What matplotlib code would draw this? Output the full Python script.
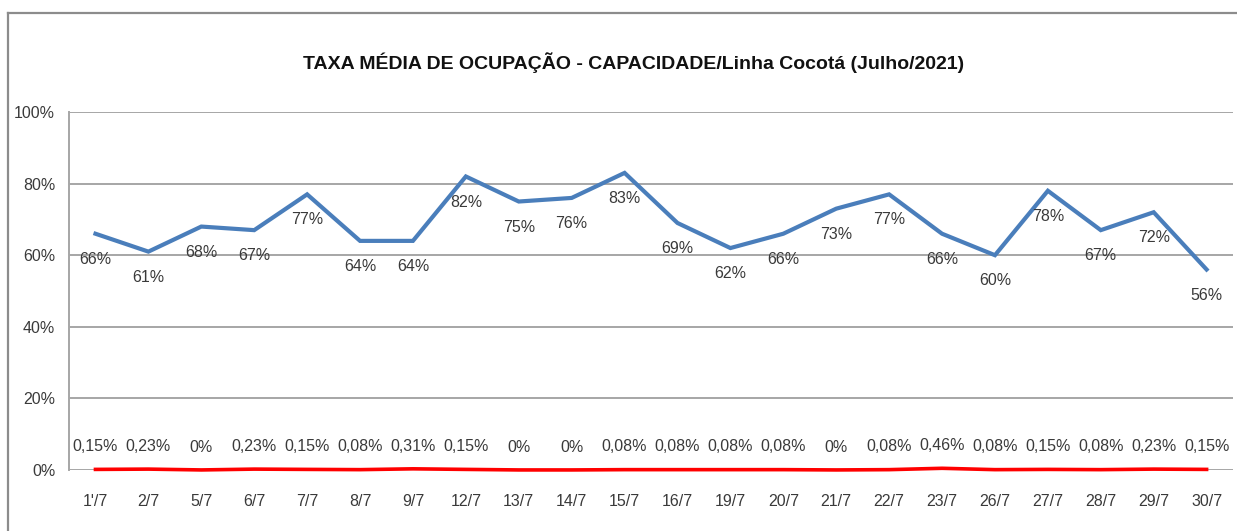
"""Taxa media de ocupacao - Linha Cocota, julho/2021.

Output: out.png
"""
from __future__ import annotations

import matplotlib
matplotlib.use("Agg")
import matplotlib.pyplot as plt
from matplotlib.lines import Line2D
from matplotlib.ticker import PercentFormatter

# ---------------------------------------------------------------------------
# data
# ---------------------------------------------------------------------------
dias = ["1'/7", "2/7", "5/7", "6/7", "7/7", "8/7", "9/7", "12/7", "13/7", "14/7", "15/7",
        "16/7", "19/7", "20/7", "21/7", "22/7", "23/7", "26/7", "27/7", "28/7", "29/7", "30/7"]
ocupacao = [66, 61, 68, 67, 77, 64, 64, 82, 75, 76, 83,
            69, 62, 66, 73, 77, 66, 60, 78, 67, 72, 56]
capacidade = [0.15, 0.23, 0, 0.23, 0.15, 0.08, 0.31, 0.15, 0, 0, 0.08,
              0.08, 0.08, 0.08, 0, 0.08, 0.46, 0.08, 0.15, 0.08, 0.23, 0.15]
yticks = [0, 20, 40, 60, 80, 100]
titulo = "TAXA MÉDIA DE OCUPAÇÃO - CAPACIDADE/Linha Cocotá (Julho/2021)"

# style
FONT = ["Liberation Sans", "DejaVu Sans"]
TXT = "#3a3a3a"
BLUE = "#4a7ebb"
RED = "#ff0000"
GRID = "#a6a6a6"
LBL = 11.5


def fmt_pct(v):
    s = f"{v:.2f}".rstrip("0").rstrip(".")
    return s.replace(".", ",") + "%"


def main():
    plt.rcParams["font.family"] = FONT
    fig = plt.figure(figsize=(12.37, 5.31), dpi=100)
    fig.patch.set_facecolor("white")
    ax = fig.add_axes([0.0558, 0.115, 0.941, 0.674])

    x = list(range(len(dias)))
    ax.plot(x, ocupacao, color=BLUE, linewidth=3.0, solid_joinstyle="miter", zorder=3)
    ax.plot(x, capacidade, color=RED, linewidth=2.6, zorder=3, clip_on=False)

    # data labels: blue below the points, red above
    for xi, v in zip(x, ocupacao):
        ax.annotate(f"{v}%", (xi, v), xytext=(0, -13), textcoords="offset points",
                    ha="center", va="top", fontsize=LBL, color=TXT)
    for xi, v in zip(x, capacidade):
        ax.annotate(fmt_pct(v), (xi, v), xytext=(0, 11), textcoords="offset points",
                    ha="center", va="bottom", fontsize=LBL, color=TXT)

    ax.set_xlim(-0.5, len(dias) - 0.5)
    ax.set_ylim(0, 100)
    ax.set_yticks(yticks)
    ax.yaxis.set_major_formatter(PercentFormatter(decimals=0))
    ax.set_xticks(x)
    ax.set_xticklabels(dias)
    ax.tick_params(axis="both", length=0, labelsize=LBL, colors=TXT)
    ax.tick_params(axis="y", pad=10)
    ax.tick_params(axis="x", pad=17)

    ax.grid(axis="y", color=GRID, linewidth=1.4, zorder=0)
    for side in ("top", "right", "bottom"):
        ax.spines[side].set_visible(False)
    ax.spines["left"].set_color(GRID)
    ax.spines["left"].set_linewidth(1.4)

    fig.text(0.512, 0.883, titulo, ha="center", va="center",
             fontsize=14, fontweight="bold", color="#111111")

    # outer chart frame (left and top edges visible in the crop)
    fx0, fy0 = 8 / 1237, 1 - 13 / 531
    fig.add_artist(Line2D([fx0, fx0], [0, fy0], color="#8c8c8c", linewidth=1.6))
    fig.add_artist(Line2D([fx0, 1], [fy0, fy0], color="#8c8c8c", linewidth=1.6))

    fig.savefig("out.png", dpi=100, facecolor="white")
    plt.close(fig)


if __name__ == "__main__":
    main()
